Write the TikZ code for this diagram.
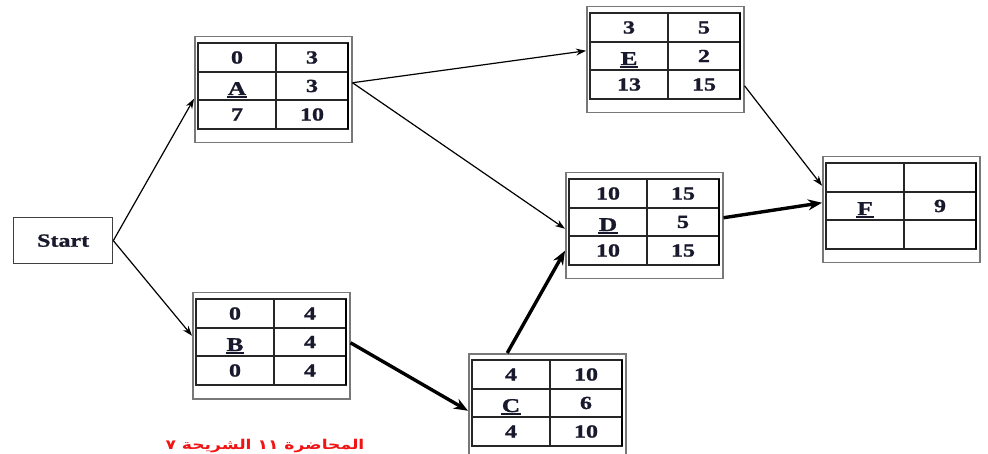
\documentclass[tikz,border=0pt]{standalone}
\usepackage{fontspec}
\setmainfont{Liberation Serif}[FakeStretch=1.3, BoldFeatures={FakeBold=1.2}]
\newfontfamily\arabicfont[Script=Arabic, FakeStretch=1.27]{DejaVu Sans}
\TeXXeTstate=1
\usetikzlibrary{arrows.meta}
\definecolor{txt}{RGB}{25,25,45}
\definecolor{outerc}{RGB}{120,120,120}
\definecolor{redtxt}{RGB}{240,20,20}
\newcommand\myul[1]{\setbox0\hbox{#1}\rlap{\hspace{-1pt}\rule[-3pt]{\dimexpr\wd0+2pt\relax}{2.2pt}}\box0}
\tikzset{
  outerbox/.style={draw=outerc, line width=1.5pt, minimum width=157pt, minimum height=106pt, inner sep=0pt, fill=white},
  gridline/.style={draw=black!85, line width=1.1pt},
  cell/.style={font=\fontsize{18.5}{21}\selectfont\bfseries, text=txt, inner sep=0pt},
  lettercell/.style={font=\fontsize{19.5}{22}\selectfont\bfseries, text=txt, inner sep=0pt},
  thin/.style={draw=black, line width=1.2pt, -{Stealth[length=10pt,width=7pt]}},
  thick/.style={draw=black, line width=3.4pt, -{Stealth[length=14pt,width=11pt]}},
}
\newcommand\actbox[9]{%
\begin{scope}[shift={(#2,#3)}]
\node[outerbox, anchor=north west] (#1) at (0,0) {};
\draw[gridline] (4,7) rectangle (154,93);
\draw[gridline] (4,36) -- (154,36) (4,64) -- (154,64) (82,7) -- (82,93);
\draw[black, line width=2pt] (154,7) -- (154,93);
\node[cell] (#1es) at (43,21.5) {#4};
\node[cell] (#1ef) at (118,21.5) {#5};
\node[lettercell, anchor=base] (#1nm) at (43,59) {\myul{#6}};
\node[cell] (#1du) at (118,50) {#7};
\node[cell] (#1ls) at (43,78.5) {#8};
\node[cell] (#1lf) at (118,78.5) {#9};
\end{scope}}
\begin{document}
\begin{tikzpicture}[x=1pt,y=-1pt]
\useasboundingbox (0,0) rectangle (988,454);
\fill[white] (0,0) rectangle (988,454);
\node[draw=black!75, line width=1.3pt, minimum width=99pt, minimum height=46pt, inner sep=0pt, anchor=north west, font=\fontsize{18.5}{21}\selectfont\bfseries, text=txt] (Start) at (13,217) {Start};
\actbox{A}{194}{36}{0}{3}{A}{3}{7}{10}
\actbox{E}{586}{6}{3}{5}{E}{2}{13}{15}
\actbox{D}{565}{172}{10}{15}{D}{5}{10}{15}
\actbox{F}{822}{156}{}{}{F}{9}{}{}
\actbox{B}{192}{292}{0}{4}{B}{4}{0}{4}
\actbox{C}{468}{353}{4}{10}{C}{6}{4}{10}
\draw[thin] (Start.east) -- ([yshift=-9pt]A.west);
\draw[thin] (Start.east) -- ([yshift=10pt]B.west);
\draw[thin] ([yshift=7pt]A.east) -- ([yshift=9pt]E.west);
\draw[thin] ([yshift=7pt]A.east) -- ([yshift=-3pt]D.west);
\draw[thin] ([yshift=-26pt]E.east) -- ([yshift=24pt]F.west);
\draw[thick] ([yshift=3pt]B.east) -- ([yshift=-4pt]C.west);
\draw[thick] ([xshift=-40pt]C.north) -- ([yshift=-25pt]D.west);
\draw[thick] ([yshift=8pt]D.east) -- ([yshift=7pt]F.west);
\node[anchor=base, text=redtxt, font=\fontsize{13.5}{16}\selectfont\bfseries\arabicfont, inner sep=0pt] (note) at (265,449) {\beginR المحاضرة ١١ الشريحة ٧\endR};
\end{tikzpicture}
\end{document}
